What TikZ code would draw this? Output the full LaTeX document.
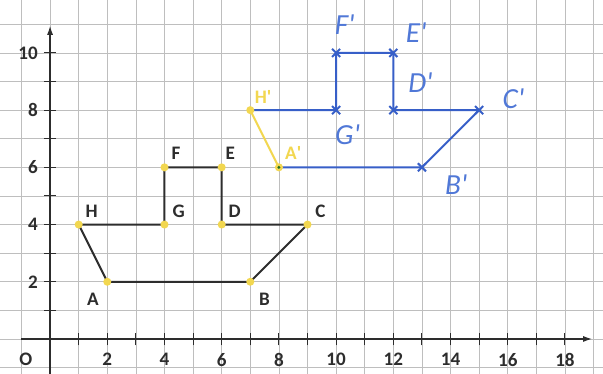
\documentclass[tikz,border=0pt]{standalone}
\usepackage{fontspec}
\setmainfont{Carlito}
\usetikzlibrary{arrows.meta,shapes.misc}
\definecolor{gridc}{RGB}{190,190,190}
\definecolor{inkb}{RGB}{55,95,200}
\definecolor{handb}{RGB}{80,120,215}
\definecolor{yel}{RGB}{242,215,80}
\definecolor{ink}{RGB}{45,45,45}
\newcommand{\pr}{\textquotesingle}
\begin{document}
\begin{tikzpicture}[
  lbl/.style={font=\fontsize{19}{20}\selectfont\bfseries, text=ink, inner sep=0pt},
  hand/.style={font=\fontsize{29}{29}\selectfont\itshape, text=handb, inner sep=0pt},
  ylbl/.style={font=\fontsize{19}{20}\selectfont\bfseries, text=yel, inner sep=0pt},
  ship/.style={draw=ink, line width=2pt},
  img/.style={draw=inkb, line width=2pt},
  ydot/.style={circle, fill=yel, inner sep=0pt, minimum size=8pt},
  bx/.style={cross out, draw=inkb, line width=2pt, inner sep=0pt, minimum size=6pt}]
\useasboundingbox (-1.75,-1.22) rectangle (19.33,11.85);
\fill[white] (-1.75,-1.22) rectangle (19.33,11.85);
\draw[gridc, line width=0.6pt] (-1.75,-1.22) grid (19.33,11.85);
% axes
\coordinate (xs) at (-1,0);
\coordinate (xe) at (18.95,0);
\coordinate (ys) at (0,-1.22);
\coordinate (ye) at (0,10.95);
\draw[ink, line width=1.3pt, -{Latex[length=9pt,width=6pt]}] (xs) -- (xe);
\draw[ink, line width=1.3pt, -{Latex[length=9pt,width=6pt]}] (ys) -- (ye);
\foreach \x in {1,...,18} \draw[ink, line width=1pt] (\x,-0.22) -- (\x,0.22);
\foreach \y in {1,...,10} \draw[ink, line width=1pt] (-0.22,\y) -- (0.22,\y);
\node[lbl] (o) at (-0.85,-0.72) {O};
\foreach \x in {2,4,...,18} \node[lbl] (x\x) at (\x,-0.72) {\x};
\foreach \y in {2,4,...,10} \node[lbl, anchor=east] (y\y) at (-0.42,\y) {\y};
% original ship
\coordinate (A) at (2,2); \coordinate (B) at (7,2); \coordinate (C) at (9,4);
\coordinate (D) at (6,4); \coordinate (E) at (6,6); \coordinate (F) at (4,6);
\coordinate (G) at (4,4); \coordinate (H) at (1,4);
\draw[ship] (A) -- (B) -- (C) -- (D) -- (E) -- (F) -- (G) -- (H) -- cycle;
\foreach \p in {A,B,C,D,E,F,G,H} \node[ydot] at (\p) {};
\node[lbl] (lA) at (1.5,1.38) {A};
\node[lbl] (lB) at (7.5,1.38) {B};
\node[lbl] (lC) at (9.45,4.45) {C};
\node[lbl] (lD) at (6.45,4.45) {D};
\node[lbl] (lE) at (6.3,6.5) {E};
\node[lbl] (lF) at (4.4,6.5) {F};
\node[lbl] (lG) at (4.5,4.45) {G};
\node[lbl] (lH) at (1.45,4.45) {H};
% image ship
\coordinate (A1) at (8,6); \coordinate (B1) at (13,6); \coordinate (C1) at (15,8);
\coordinate (D1) at (12,8); \coordinate (E1) at (12,10); \coordinate (F1) at (10,10);
\coordinate (G1) at (10,8); \coordinate (H1) at (7,8);
\draw[img] (A1) -- (B1) -- (C1) -- (D1) -- (E1) -- (F1) -- (G1) -- (H1);
\draw[draw=yel, line width=2pt] (H1) -- (A1);
\node[ydot] at (A1) {};
\node[ydot] at (H1) {};
\fill[ink!70!green] (A1) circle (1.6pt);
\foreach \p in {B1,C1,D1,E1,F1,G1} \node[bx] at (\p) {};
\node[ylbl] (lA1) at (8.5,6.5) {A\pr};
\node[ylbl] (lH1) at (7.45,8.45) {H\pr};
\node[hand] (lB1) at (14.2,5.4) {B\pr};
\node[hand] (lC1) at (16.2,8.4) {C\pr};
\node[hand] (lD1) at (12.95,8.95) {D\pr};
\node[hand] (lE1) at (12.8,10.7) {E\pr};
\node[hand] (lF1) at (10.3,11.0) {F\pr};
\node[hand] (lG1) at (10.4,7.15) {G\pr};
\end{tikzpicture}
\end{document}
